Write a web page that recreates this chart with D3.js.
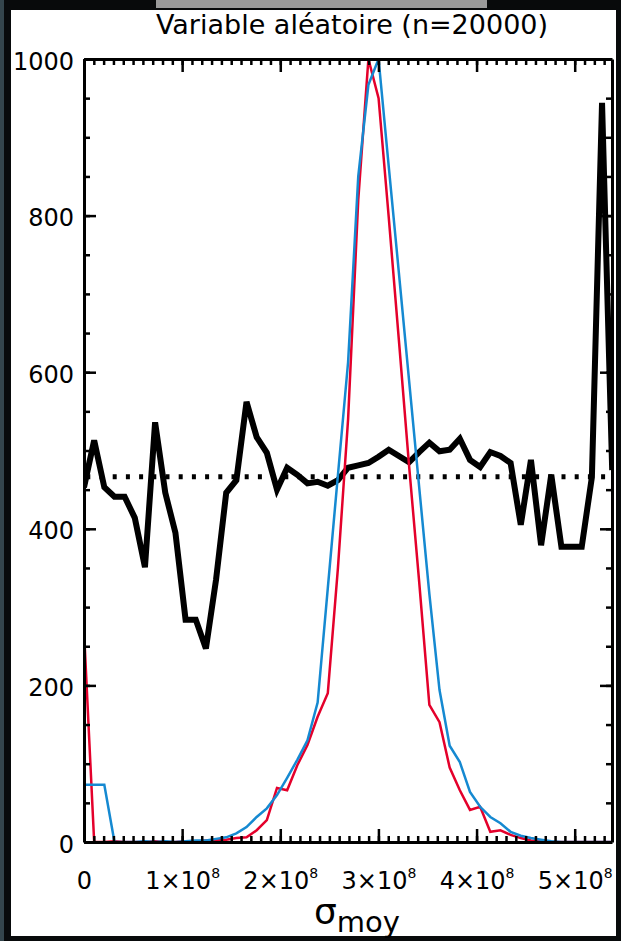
<!DOCTYPE html>
<html>
<head>
<meta charset="utf-8">
<script src="https://cdn.jsdelivr.net/npm/d3@7"></script>
<style>
  html, body { margin: 0; padding: 0; background: #000; }
  svg { display: block; }
</style>
</head>
<body>
<div id="chart"></div>
<script>
// tick labels
const xTickValues = [0, 1e8, 2e8, 3e8, 4e8, 5e8];
const xTickLabels = ["0", "1×10^8", "2×10^8", "3×10^8", "4×10^8", "5×10^8"];
const yTickValues = [0, 200, 400, 600, 800, 1000];
const yTickLabels = ["0", "200", "400", "600", "800", "1000"];

// histogram grid (sigma_moy) : one value per bin
const binStep = 1.035e7;

// black : thick curve
const blackCounts = [453, 513, 453, 441, 441, 414, 351, 536, 446, 395,
  284, 284, 247, 335, 446, 462, 562, 517, 497, 450,
  478, 469, 458, 460, 455, 462, 478, 481, 484, 492,
  501, 493, 485, 498, 510, 499, 501, 515, 488, 479,
  498, 493, 484, 405, 488, 379, 469, 377, 377, 377,
  466, 944, 475];

// red curve
const redCounts = [270, 0, 0, 1, 0, 0, 0, 1, 0, 0,
  1, 0, 2, 2, 3, 5, 6, 15, 28, 69,
  66, 98, 124, 160, 190, 350, 540, 820, 1000, 950,
  798, 641, 481, 332, 175, 153, 95, 66, 41, 45,
  13, 15, 9, 5, 2, 1, 0, 0, 0, 0,
  0, 0, 0];

// blue curve
const blueCounts = [73, 73, 73, 0, 0, 0, 1, 0, 1, 0,
  1, 2, 2, 4, 6, 11, 19, 32, 43, 60,
  82, 105, 130, 178, 324, 469, 613, 850, 967, 1000,
  863, 727, 590, 453, 317, 194, 123, 102, 64, 45,
  32, 24, 13, 8, 5, 3, 1, 0, 0, 0,
  0, 0, 0];

// mean level (dotted)
const meanLevel = 466.5;

const width = 621, height = 941;
const font = "'DejaVu Sans', sans-serif";

const svg = d3.select("#chart").append("svg")
  .attr("width", width)
  .attr("height", height);

// dark outer frame like the screenshot
svg.append("rect").attr("width", width).attr("height", height).attr("fill", "#080a0b");
svg.append("rect").attr("x", 0).attr("y", 0).attr("width", 4).attr("height", height).attr("fill", "#34454c");
svg.append("rect").attr("x", 156).attr("y", 0).attr("width", 331).attr("height", 8).attr("fill", "#9a9a9a");
svg.append("rect").attr("x", 11).attr("y", 10).attr("width", 605).attr("height", 926).attr("fill", "#fff");

const x = d3.scaleLinear().domain([0, 5.38e8]).range([84, 612]);
const y = d3.scaleLinear().domain([0, 1000]).range([842, 59]);

svg.append("clipPath").attr("id", "plot-clip")
  .append("rect")
    .attr("x", x(0)).attr("y", y(1000))
    .attr("width", x(5.38e8) - x(0)).attr("height", y(0) - y(1000));

const plot = svg.append("g").attr("clip-path", "url(#plot-clip)");

const line = d3.line()
  .x((d, i) => x(i * binStep))
  .y(d => y(d));

// thick black curve
plot.append("path")
  .datum(blackCounts)
  .attr("d", line)
  .attr("fill", "none")
  .attr("stroke", "#000")
  .attr("stroke-width", 6);

// dotted mean
plot.append("line")
  .attr("x1", x(0)).attr("x2", x(5.38e8))
  .attr("y1", y(meanLevel)).attr("y2", y(meanLevel))
  .attr("stroke", "#000")
  .attr("stroke-width", 5)
  .attr("stroke-dasharray", "4 9.2")
  .attr("stroke-dashoffset", 10.9);

plot.append("path")
  .datum(redCounts)
  .attr("d", line)
  .attr("fill", "none")
  .attr("stroke", "#e4002b")
  .attr("stroke-width", 2.5);

plot.append("path")
  .datum(blueCounts)
  .attr("d", line)
  .attr("fill", "none")
  .attr("stroke", "#1589d1")
  .attr("stroke-width", 2.5);

// axes: ticks point inward on all four sides
const xMinor = d3.range(0, 5.385e8, 1e7);
const yMinor = d3.range(0, 1001, 50);

function styleAxis(g) {
  g.select(".domain").attr("stroke-width", 3);
  g.selectAll(".tick line").attr("stroke-width", 2.5);
  g.selectAll("text").attr("font-family", font).attr("font-size", 24).attr("fill", "#000");
}

function minor(g) {
  g.select(".domain").remove();
  g.selectAll(".tick line").attr("stroke-width", 2.5);
}

// bottom
const gBottom = svg.append("g")
  .attr("transform", `translate(0,${y(0)})`)
  .call(d3.axisBottom(x).tickValues(xTickValues).tickSize(-13).tickSizeOuter(0)
    .tickPadding(30).tickFormat((d, i) => xTickLabels[i]))
  .call(styleAxis);

gBottom.selectAll(".tick text").each(function(d, i) {
  const parts = xTickLabels[i].split("^");
  const t = d3.select(this).text(null);
  t.append("tspan").text(parts[0]);
  if (parts[1]) {
    t.append("tspan").attr("font-size", 14).attr("dy", -11).text(parts[1]);
  }
});

svg.append("g")
  .attr("transform", `translate(0,${y(0)})`)
  .call(d3.axisBottom(x).tickValues(xMinor).tickSize(-6).tickFormat(""))
  .call(minor);

// top
svg.append("g")
  .attr("transform", `translate(0,${y(1000)})`)
  .call(d3.axisTop(x).tickValues(xTickValues).tickSize(-13).tickSizeOuter(0).tickFormat(""))
  .call(styleAxis);
svg.append("g")
  .attr("transform", `translate(0,${y(1000)})`)
  .call(d3.axisTop(x).tickValues(xMinor).tickSize(-6).tickFormat(""))
  .call(minor);

// left
svg.append("g")
  .attr("transform", `translate(${x(0)},0)`)
  .call(d3.axisLeft(y).tickValues(yTickValues).tickSize(-12).tickSizeOuter(0)
    .tickPadding(10).tickFormat((d, i) => yTickLabels[i]))
  .call(styleAxis)
  .selectAll(".tick text").attr("dy", "0.42em");
svg.append("g")
  .attr("transform", `translate(${x(0)},0)`)
  .call(d3.axisLeft(y).tickValues(yMinor).tickSize(-6).tickFormat(""))
  .call(minor);

// right
svg.append("g")
  .attr("transform", `translate(${x(5.38e8)},0)`)
  .call(d3.axisRight(y).tickValues(yTickValues).tickSize(-12).tickSizeOuter(0).tickFormat(""))
  .call(styleAxis);
svg.append("g")
  .attr("transform", `translate(${x(5.38e8)},0)`)
  .call(d3.axisRight(y).tickValues(yMinor).tickSize(-6).tickFormat(""))
  .call(minor);

// title
svg.append("text")
  .attr("x", 352).attr("y", 34)
  .attr("text-anchor", "middle")
  .attr("font-family", font)
  .attr("font-size", 27)
  .text("Variable aléatoire (n=20000)");

// x axis title : sigma with subscript
const xTitle = svg.append("text")
  .attr("x", 357).attr("y", 924)
  .attr("text-anchor", "middle")
  .attr("font-family", font);
xTitle.append("tspan").attr("font-size", 36).text("σ");
xTitle.append("tspan").attr("font-size", 29).attr("dy", 8).text("moy");
</script>
</body>
</html>
